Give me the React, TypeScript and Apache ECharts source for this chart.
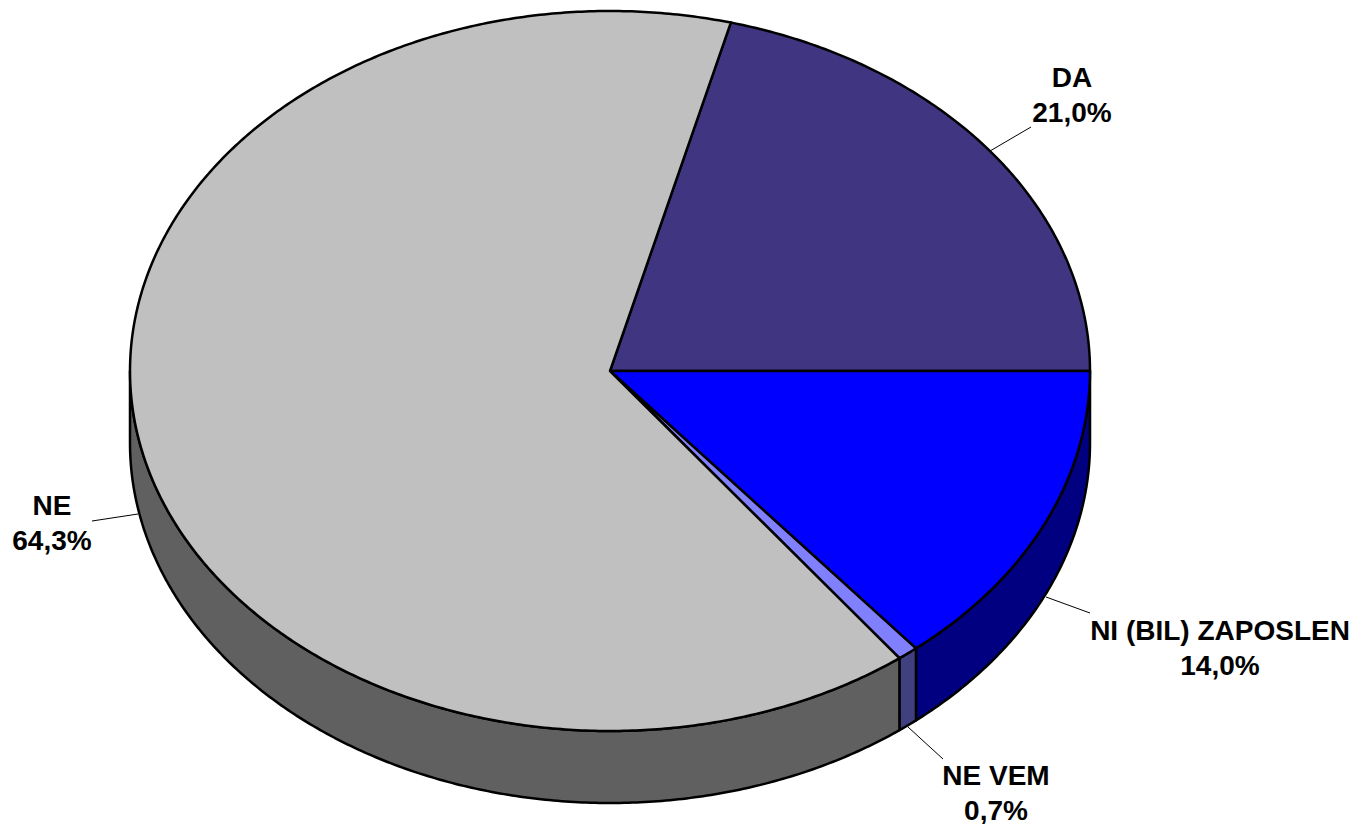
import React, { useEffect, useRef } from "react";
import * as echarts from "echarts";

const categories = ["DA", "NI (BIL) ZAPOSLEN", "NE VEM", "NE"];
const shares = [20.95, 14.0, 0.7, 64.35];
const percentLabels = ["21,0%", "14,0%", "0,7%", "64,3%"];

const topColors = ["#403580", "#0000FF", "#8080FF", "#C0C0C0"];
const sideColors = ["#201A40", "#000080", "#404080", "#606060"];
const labelCenters = [[1072, 77], [1220, 630], [996, 775], [52, 505]];
const leaderLines = [
  [[990, 151], [1031, 127]],
  [[1046, 597], [1090, 613]],
  [[908, 727], [943, 759]],
  [[138, 514], [92, 521]],
];

const CX = 610, CY = 371, RX = 480, RY = 360, DEPTH = 72;
const FONT = "Liberation Sans";
const LINE_GAP = 35;
const START_DEG = -shares[0] * 3.6;

const bounds = (i: number) => {
  const before = shares.slice(0, i).reduce((a, b) => a + b, 0);
  return [START_DEG + before * 3.6, START_DEG + (before + shares[i]) * 3.6];
};
const at = (deg: number, dy = 0) => {
  const r = (deg * Math.PI) / 180;
  return [CX + RX * Math.cos(r), CY + RY * Math.sin(r) + dy];
};
const arc = (a: number, b: number, dy = 0) => {
  const n = Math.max(2, Math.ceil(Math.abs(b - a) * 2));
  const pts: number[][] = [];
  for (let k = 0; k <= n; k++) pts.push(at(a + ((b - a) * k) / n, dy));
  return pts;
};
const stroke = { stroke: "#000", lineWidth: 2.5, lineJoin: "round" };

const renderWall = (params: any) => {
  const [a, b] = bounds(params.dataIndex);
  const s = Math.max(a, 0), e = Math.min(b, 180);
  if (e <= s) return { type: "group", children: [] };
  return {
    type: "polygon",
    shape: { points: [...arc(s, e), ...arc(e, s, DEPTH)] },
    style: { fill: sideColors[params.dataIndex], ...stroke },
  };
};
const renderTop = (params: any) => {
  const [a, b] = bounds(params.dataIndex);
  return {
    type: "polygon",
    shape: { points: [[CX, CY], ...arc(a, b)] },
    style: { fill: topColors[params.dataIndex], ...stroke },
  };
};
const renderLabel = (params: any) => {
  const i = params.dataIndex;
  const [x, y] = labelCenters[i];
  const [p, q] = leaderLines[i];
  const text = (t: string, yy: number) => ({
    type: "text",
    x,
    y: yy,
    style: { text: t, fill: "#000", font: `bold 28px "${FONT}"`, textAlign: "center", textVerticalAlign: "middle" },
  });
  return {
    type: "group",
    children: [
      { type: "line", shape: { x1: p[0], y1: p[1], x2: q[0], y2: q[1] }, style: { stroke: "#000", lineWidth: 1 } },
      text(categories[i], y),
      text(percentLabels[i], y + LINE_GAP),
    ],
  };
};

export default function App() {
  const ref = useRef<HTMLDivElement>(null);
  useEffect(() => {
    const chart = echarts.init(ref.current!, null, { renderer: "svg" });
    const base = { type: "custom", coordinateSystem: "none", silent: true, data: shares };
    chart.setOption({
      animation: false,
      backgroundColor: "#fff",
      series: [
        { ...base, name: "side", z: 1, renderItem: renderWall },
        { ...base, name: "top", z: 2, renderItem: renderTop },
        { ...base, name: "labels", z: 3, renderItem: renderLabel },
      ],
    });
    return () => chart.dispose();
  }, []);
  return <div ref={ref} style={{ position: "fixed", left: 0, top: 0, width: 1356, height: 824 }} />;
}
